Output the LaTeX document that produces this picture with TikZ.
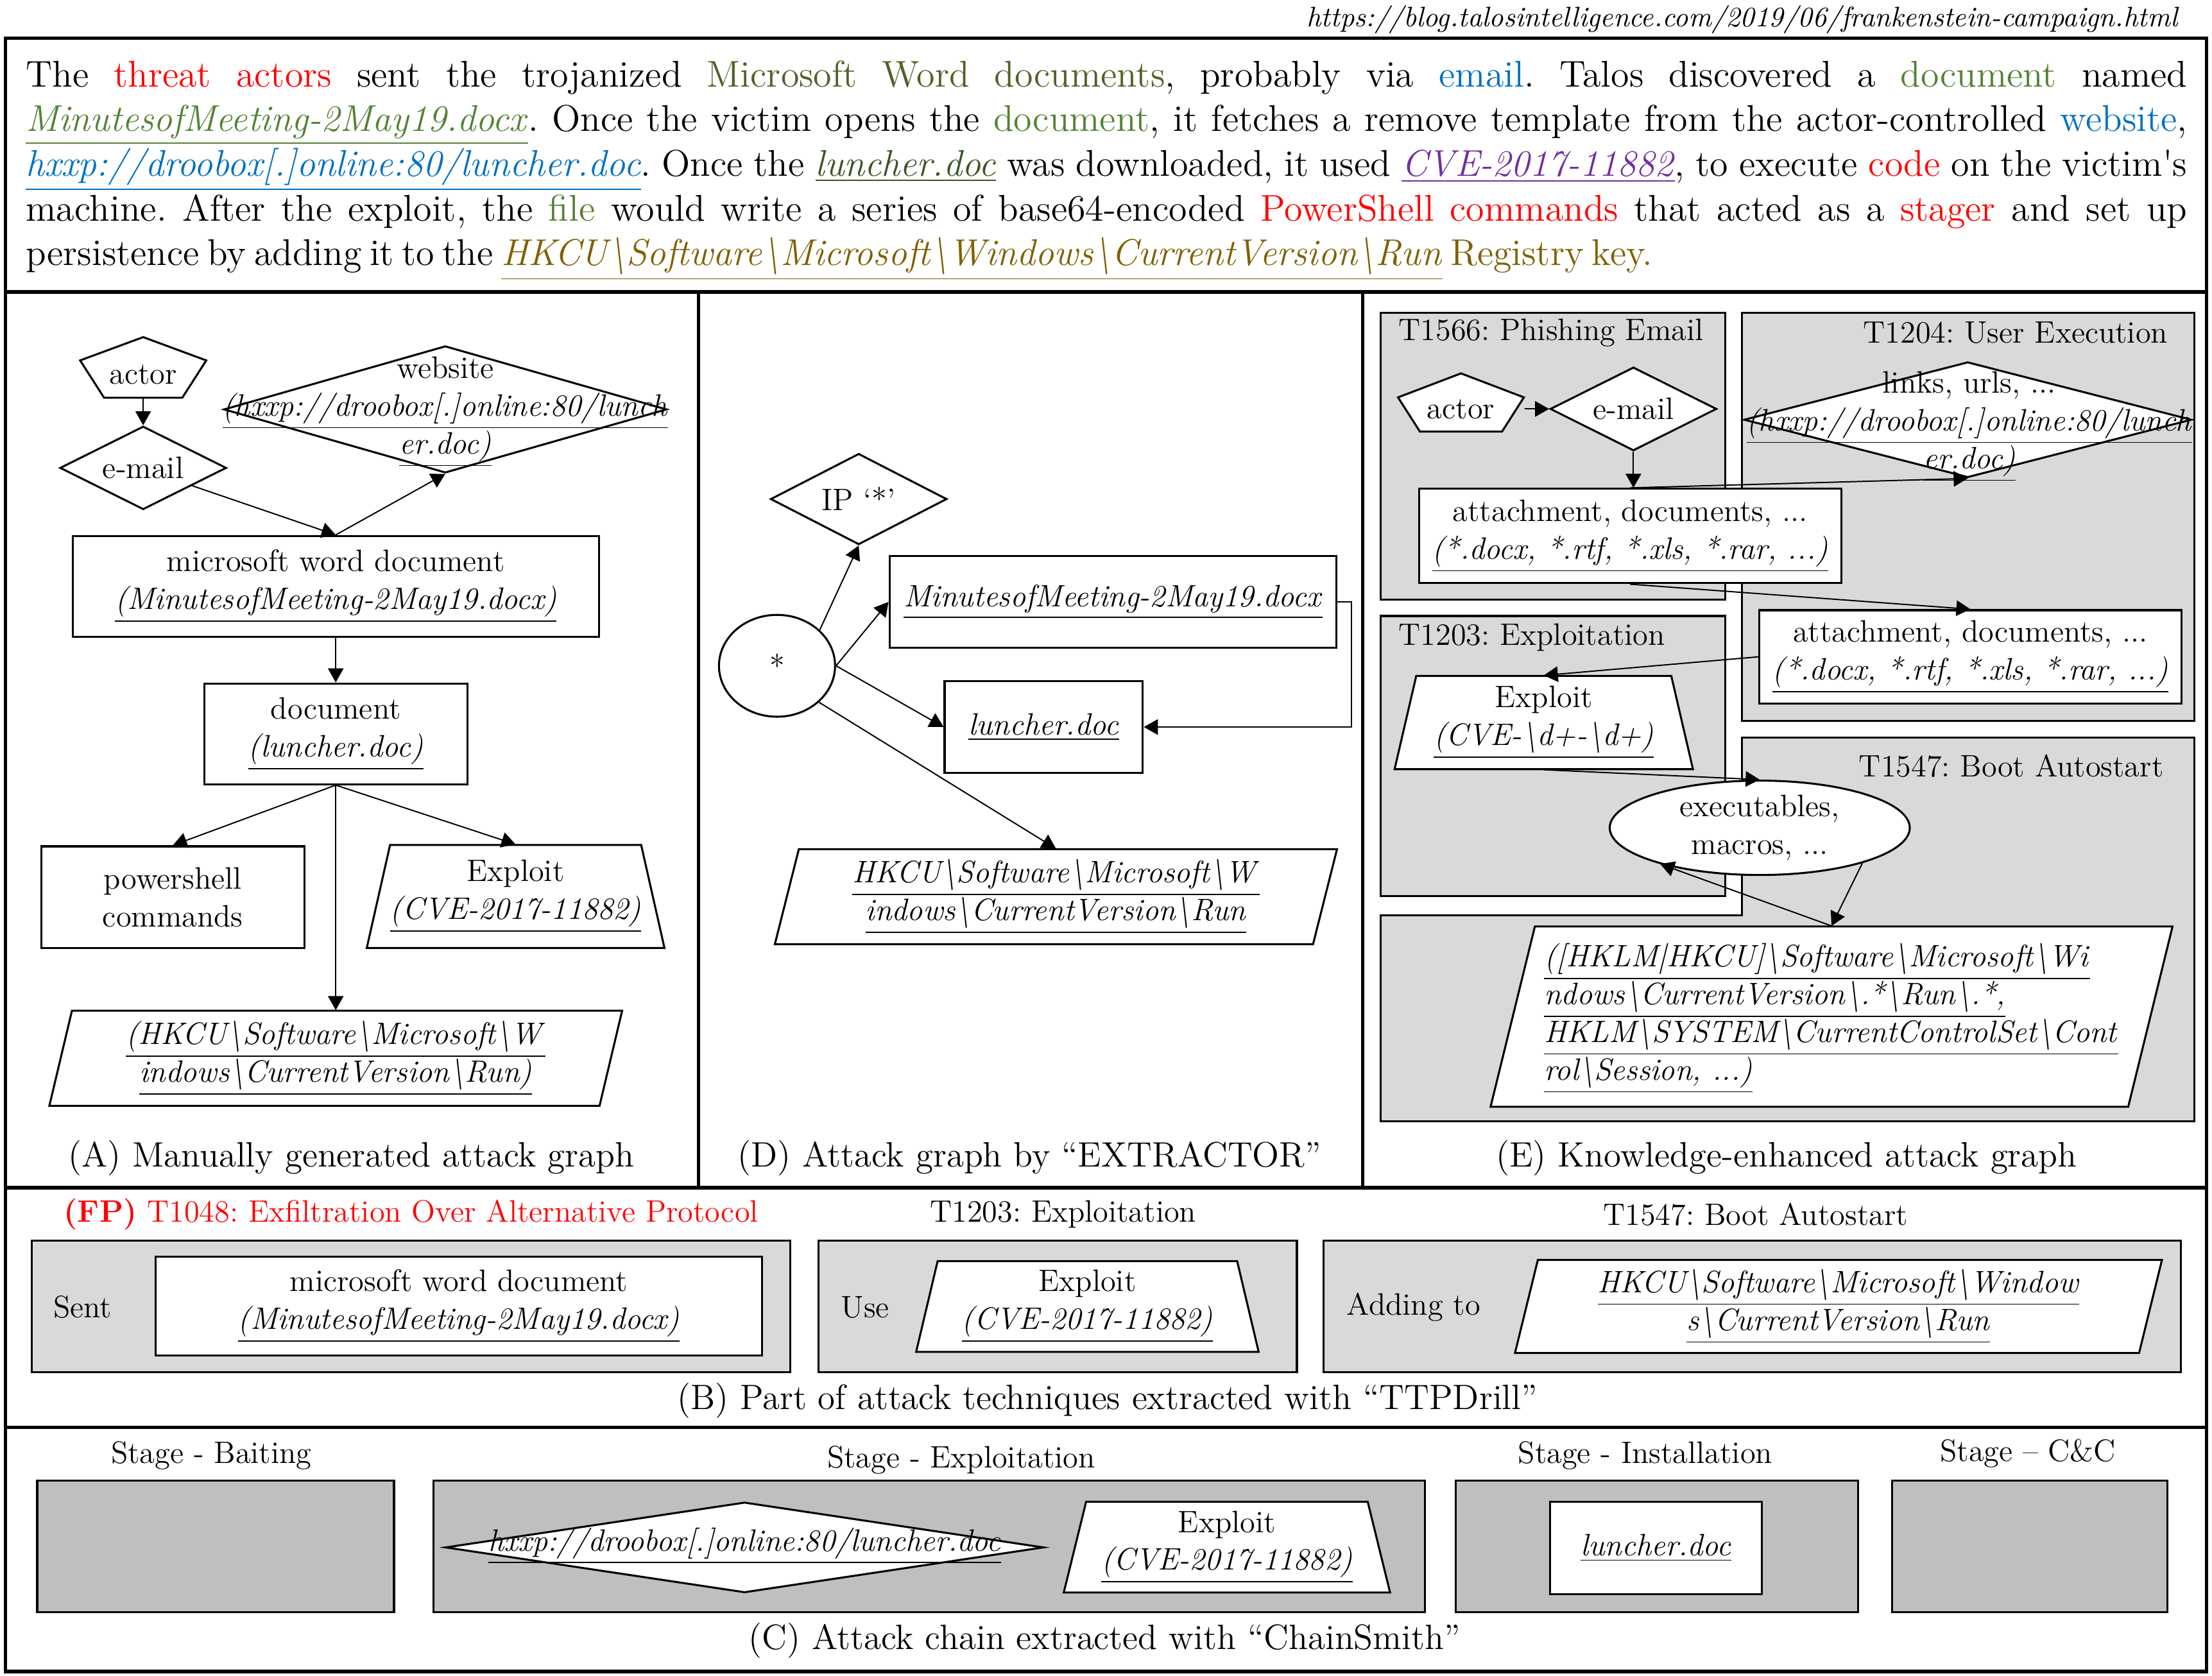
\documentclass[tikz,border=0pt]{standalone}
\usepackage{fontspec}
\usetikzlibrary{shapes.geometric,arrows.meta,calc}
\frenchspacing
\definecolor{cred}{HTML}{FF0000}
\definecolor{cgreenA}{HTML}{4F6228}
\definecolor{cgreenB}{HTML}{548235}
\definecolor{cgreenC}{HTML}{375623}
\definecolor{cblue}{HTML}{0070C0}
\definecolor{cpurple}{HTML}{7030A0}
\definecolor{colive}{HTML}{7F6000}
\definecolor{lgray}{HTML}{D9D9D9}
\definecolor{mgray}{HTML}{BFBFBF}
\newcommand\bsl{\textbackslash}
\newcommand\uit[1]{\underline{\textit{#1}}}
\newcommand\myNodeFont{\fontsize{11}{13.4}\selectfont}
\newcommand\myCapFont{\fontsize{12.5}{15}\selectfont}
\newcommand\myParaFont{\fontsize{13.2}{16}\selectfont}
% trapezoid: name, cx, cy, top half-width, bottom half-width, half-height, text
\newcommand\trapShape[7]{%
  \draw[shapeline, fill=white] ({#2-#4},{#3-#6}) -- ({#2+#4},{#3-#6}) -- ({#2+#5},{#3+#6}) -- ({#2-#5},{#3+#6}) -- cycle;
  \node[txt, minimum width=#5pt, minimum height=#6pt] (#1) at (#2,#3) {#7};}
% parallelogram: name, cx, cy, half-width, half-height, shift, text
\newcommand\paraShape[7]{%
  \draw[shapeline, fill=white] ({#2-#4+#6},{#3-#5}) -- ({#2+#4+#6},{#3-#5}) -- ({#2+#4-#6},{#3+#5}) -- ({#2-#4-#6},{#3+#5}) -- cycle;
  \node[txt, minimum width=#4pt, minimum height=#5pt] (#1) at (#2,#3) {#7};}
% pentagon: name, cx, cy, half-height, side drop, side half-width, bottom half-width, text, text dy
\newcommand\pentShape[9]{%
  \draw[shapeline, fill=white] (#2,{#3-#4}) -- ({#2+#6},{#3-#4+#5}) -- ({#2+#7},{#3+#4}) -- ({#2-#7},{#3+#4}) -- ({#2-#6},{#3-#4+#5}) -- cycle;
  \node[txt, minimum width=#6pt, minimum height=#4pt] (#1) at (#2,#3) {};
  \node[txt] (#1t) at (#2,{#3+#9}) {#8};}
\begin{document}
\begin{tikzpicture}[x=0.5pt, y=-0.5pt,
  frameline/.style={line width=1.2pt},
  shapeline/.style={draw, line width=0.7pt},
  txt/.style={inner sep=0pt, align=center, font=\myNodeFont},
  captxt/.style={inner sep=0pt, font=\myCapFont},
  box/.style={draw, line width=0.7pt, fill=white, inner sep=0pt, align=center, font=\myNodeFont},
  diam/.style={draw, line width=0.7pt, fill=white, shape=diamond, inner sep=0pt},
  ell/.style={draw, line width=0.7pt, fill=white, shape=ellipse, inner sep=0pt},
  cluster/.style={draw, line width=0.7pt, fill=lgray},
  stagebox/.style={draw, line width=0.7pt, fill=mgray},
  arr/.style={-{Triangle[length=5pt,width=5.5pt]}, line width=0.45pt}]
\useasboundingbox (0,0) rectangle (1568,1188);

% ---------- frame ----------
\draw[frameline] (4,27) rectangle (1564,1185);
\draw[frameline] (4,207) -- (1564,207);
\draw[frameline] (4,842) -- (1564,842);
\draw[frameline] (4,1012) -- (1564,1012);
\draw[frameline] (495,207) -- (495,842);
\draw[frameline] (966,207) -- (966,842);

% ---------- source + paragraph ----------
\node[anchor=base east, inner sep=0pt, font=\fontsize{10}{12}\selectfont\itshape] (src) at (1544,19) {https://blog.talosintelligence.com/2019/06/frankenstein-campaign.html};
\node[anchor=base west, inner sep=0pt, font=\myParaFont] (l1) at (18,61.5) {\hbox to 766pt{The \textcolor{cred}{threat actors} sent the trojanized \textcolor{cgreenA}{Microsoft Word documents}, probably via \textcolor{cblue}{email}. Talos discovered a \textcolor{cgreenB}{document} named}};
\node[anchor=base west, inner sep=0pt, font=\myParaFont] (l2) at (18,93.2) {\hbox to 766pt{\textcolor{cgreenB}{\uit{MinutesofMeeting-2May19.docx}}. Once the victim opens the \textcolor{cgreenB}{document}, it fetches a remove template from the actor-controlled \textcolor{cblue}{website},}};
\node[anchor=base west, inner sep=0pt, font=\myParaFont] (l3) at (18,124.9) {\hbox to 766pt{\textcolor{cblue}{\uit{hxxp://droobox[.]online:80/luncher.doc}}. Once the \textcolor{cgreenC}{\uit{luncher.doc}} was downloaded, it used \textcolor{cpurple}{\uit{CVE-2017-11882}}, to execute \textcolor{cred}{code} on the victim\textquotesingle s}};
\node[anchor=base west, inner sep=0pt, font=\myParaFont] (l4) at (18,156.6) {\hbox to 766pt{machine. After the exploit, the \textcolor{cgreenB}{file} would write a series of base64-encoded \textcolor{cred}{PowerShell commands} that acted as a \textcolor{cred}{stager} and set up}};
\node[anchor=base west, inner sep=0pt, font=\myParaFont] (l5) at (18,188.3) {\hbox to 560pt{persistence by adding it to the \textcolor{colive}{\uit{HKCU\bsl Software\bsl Microsoft\bsl Windows\bsl CurrentVersion\bsl Run}} \textcolor{colive}{Registry key.}}};

% ---------- panel A ----------
\pentShape{actorA}{101.5}{260.5}{21.5}{16.5}{44.7}{27.7}{actor}{5}
\node[diam, minimum width=59pt, minimum height=29.5pt] (emailA) at (101.5,331.7) {};
\node[txt] (emailAt) at (emailA) {e-mail};
\node[diam, minimum width=157pt, minimum height=45pt] (webA) at (315.65,290.25) {};
\node[txt] (webAt) at (315.65,292) {website\\\uit{(hxxp://droobox[.]online:80/lunch}\\\uit{er.doc)}};
\node[box, minimum width=186.55pt, minimum height=35.7pt] (mwdA) at (238,415.6) {microsoft word document\\\uit{(MinutesofMeeting-2May19.docx)}};
\node[box, minimum width=93.25pt, minimum height=35.7pt] (docA) at (238,520.2) {document\\\uit{(luncher.doc)}};
\node[box, minimum width=93.25pt, minimum height=36pt] (powA) at (122.5,636) {powershell\\commands};
\trapShape{expA}{365.5}{635.5}{89}{105.5}{36.5}{Exploit\\\uit{(CVE-2017-11882)}}
\paraShape{hkcuA}{238}{750.2}{195}{33.7}{8}{\uit{(HKCU\bsl Software\bsl Microsoft\bsl W}\\\uit{indows\bsl CurrentVersion\bsl Run)}}
\draw[arr] (actorA.south) -- (emailA.north);
\draw[arr] (emailA.-20) -- (mwdA.north);
\draw[arr] (mwdA.north) -- (webA.south);
\draw[arr] (mwdA.south) -- (docA.north);
\draw[arr] (docA.south) -- (powA.north);
\draw[arr] (docA.south) -- (expA.north);
\draw[arr] (docA.south) -- (hkcuA.north);
\node[captxt] (capA) at (249,821) {(A) Manually generated attack graph};

% ---------- panel D ----------
\node[diam, minimum width=62.5pt, minimum height=32.25pt] (ipD) at (608.7,353.8) {};
\node[txt] (ipDt) at (ipD) {IP `*'};
\node[ell, minimum width=41.15pt, minimum height=36.1pt, font=\myNodeFont] (starD) at (550.8,472) {*};
\node[box, minimum width=158.45pt, minimum height=32.7pt] (minD) at (789,426.7) {\uit{MinutesofMeeting-2May19.docx}};
\node[box, minimum width=70.25pt, minimum height=32.4pt] (lunD) at (739.85,515.4) {\uit{luncher.doc}};
\paraShape{hkcuD}{748.5}{635.7}{190.75}{33.7}{8.5}{\uit{HKCU\bsl Software\bsl Microsoft\bsl W}\\\uit{indows\bsl CurrentVersion\bsl Run}}
\draw[arr] (starD.40) -- (ipD.south);
\draw[arr] (starD.east) -- (minD.west);
\draw[arr] (starD.east) -- (lunD.west);
\draw[arr] (starD.-41) -- (hkcuD.north);
\draw[arr] (minD.east) -- ++(10,0) |- (lunD.east);
\node[captxt] (capD) at (729.8,821) {(D) Attack graph by ``EXTRACTOR''};

% ---------- panel E ----------
\draw[cluster] (978.6,221.7) rectangle (1223,424.9);
\draw[cluster] (1234.6,221.7) rectangle (1555.4,510.9);
\draw[cluster] (978.6,436.7) rectangle (1223,635.4);
\draw[cluster] (1234.6,523) -- (1555.4,523) -- (1555.4,795.1) -- (978.6,795.1) -- (978.6,648.7) -- (1234.6,648.7) -- cycle;
\node[txt, anchor=west] (t1566) at (991,236) {T1566: Phishing Email};
\node[txt, anchor=east] (t1204) at (1537,236) {T1204: User Execution};
\node[txt, anchor=west] (t1203) at (991,452) {T1203: Exploitation};
\node[txt, anchor=east] (t1547) at (1534,543) {T1547: Boot Autostart};
\pentShape{actorE}{1035.6}{285.35}{20.65}{17}{44.6}{29.1}{actor}{5}
\node[diam, minimum width=59pt, minimum height=29.6pt] (emailE) at (1157.85,289.9) {};
\node[txt] (emailEt) at (emailE) {e-mail};
\node[diam, minimum width=158.65pt, minimum height=40.95pt] (linksE) at (1394.85,297.55) {};
\node[txt] (linksEt) at (1396,302.5) {links, urls, ...\\\uit{(hxxp://droobox[.]online:80/lunch}\\\uit{er.doc)}};
\node[box, minimum width=149.7pt, minimum height=33.45pt] (att1E) at (1155.5,380) {attachment, documents, ...\\\uit{(*.docx, *.rtf, *.xls, *.rar, ...)}};
\node[box, minimum width=149.75pt, minimum height=33.05pt] (att2E) at (1396.75,465.65) {attachment, documents, ...\\\uit{(*.docx, *.rtf, *.xls, *.rar, ...)}};
\trapShape{expE}{1094.3}{512.25}{90.4}{105.75}{33.05}{Exploit\\\uit{(CVE-\bsl d+-\bsl d+)}}
\node[ell, minimum width=106.35pt, minimum height=33.45pt] (ellE) at (1247.4,586.85) {};
\node[txt] (ellEt) at (ellE) {executables,\\macros, ...};
\paraShape{hklmE}{1298.3}{720.7}{226}{63.9}{15.7}{}
\node[txt, align=left] (hklmEt) at (1298,722) {\uit{([HKLM|HKCU]\bsl Software\bsl Microsoft\bsl Wi}\\\uit{ndows\bsl CurrentVersion\bsl .*\bsl Run\bsl .*,}\\\uit{HKLM\bsl SYSTEM\bsl CurrentControlSet\bsl Cont}\\\uit{rol\bsl Session, ...)}};
\draw[arr] (actorE.east |- emailE.west) -- (emailE.west);
\draw[arr] (emailE.south) -- (emailE.south |- att1E.north);
\draw[arr] (att1E.north) -- (linksE.south);
\draw[arr] (att1E.south) -- (att2E.north);
\draw[arr] (att2E.west) -- (expE.north);
\draw[arr] (expE.south) -- (ellE.north);
\draw[arr] (ellE.-19) -- (hklmE.north);
\draw[arr] (hklmE.north) -- (ellE.200);
\node[captxt] (capE) at (1266.4,821) {(E) Knowledge-enhanced attack graph};

% ---------- section B ----------
\node[txt, anchor=west, text=cred] (fpB) at (45,861) {\textbf{(FP)} T1048: Exfiltration Over Alternative Protocol};
\node[txt] (t1203B) at (753.6,861) {T1203: Exploitation};
\node[txt] (t1547B) at (1244.4,861) {T1547: Boot Autostart};
\draw[cluster] (22.6,879.6) rectangle (560.2,972.8);
\draw[cluster] (580.2,879.6) rectangle (919.3,972.8);
\draw[cluster] (938.4,879.6) rectangle (1546,972.8);
\node[txt] (sentB) at (58.5,926.6) {Sent};
\node[box, minimum width=215.05pt, minimum height=35pt] (mwdB) at (325.15,926) {microsoft word document\\\uit{(MinutesofMeeting-2May19.docx)}};
\node[txt] (useB) at (613.3,926.6) {Use};
\trapShape{expB}{770.8}{926.2}{106.15}{121.4}{32.2}{Exploit\\\uit{(CVE-2017-11882)}}
\node[txt] (addB) at (1002,926.6) {Adding to};
\paraShape{hkcuB}{1303.2}{926.2}{221.2}{33}{8.1}{\uit{HKCU\bsl Software\bsl Microsoft\bsl Window}\\\uit{s\bsl CurrentVersion\bsl Run}}
\node[captxt] (capB) at (785,993) {(B) Part of attack techniques extracted with ``TTPDrill''};

% ---------- section C ----------
\node[txt] (stg1) at (149.8,1032) {Stage - Baiting};
\node[txt] (stg2) at (681.4,1035) {Stage - Exploitation};
\node[txt] (stg3) at (1166.3,1032) {Stage - Installation};
\node[txt] (stg4) at (1437.5,1030.5) {Stage -- C\&C};
\draw[stagebox] (26.4,1049.7) rectangle (279.3,1143);
\draw[stagebox] (307.2,1049.7) rectangle (1010.1,1143);
\draw[stagebox] (1031.9,1049.7) rectangle (1317.3,1143);
\draw[stagebox] (1341.2,1049.7) rectangle (1536.3,1143);
\node[diam, minimum width=212pt, minimum height=32.05pt] (urlC) at (527.8,1097) {};
\node[txt] (urlCt) at (528,1096) {\uit{hxxp://droobox[.]online:80/luncher.doc}};
\trapShape{expC}{869.7}{1096.8}{99.8}{115.65}{32.2}{Exploit\\\uit{(CVE-2017-11882)}}
\node[box, minimum width=75.05pt, minimum height=32.85pt] (lunC) at (1173.85,1097.45) {\uit{luncher.doc}};
\node[captxt] (capC) at (783,1163) {(C) Attack chain extracted with ``ChainSmith''};
\end{tikzpicture}
\end{document}
